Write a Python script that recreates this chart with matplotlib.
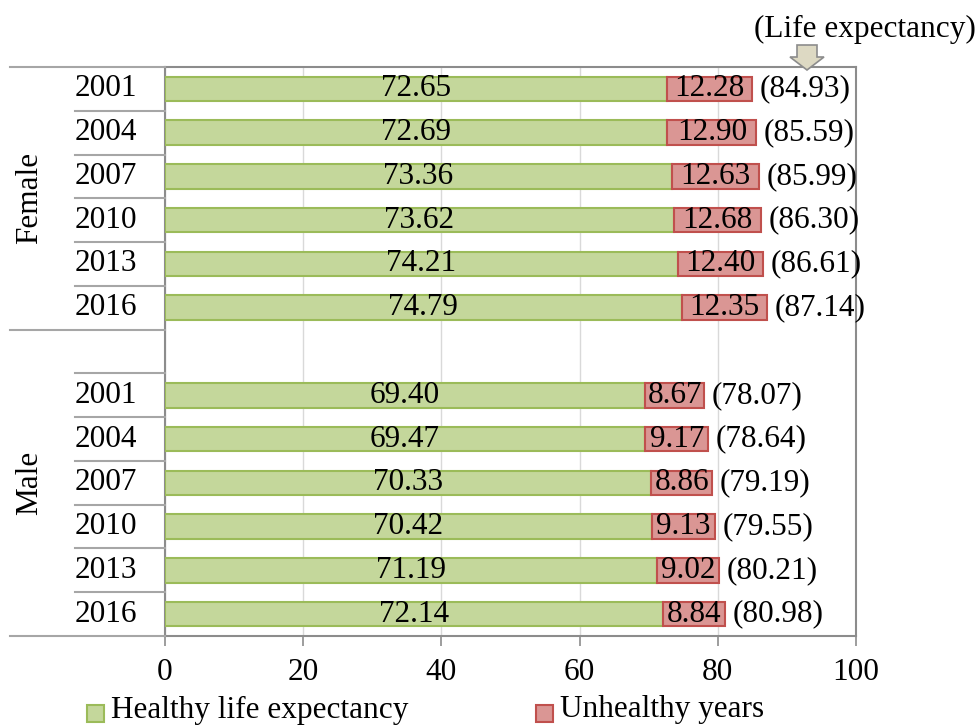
import matplotlib
matplotlib.use("Agg")
import matplotlib.pyplot as plt
from matplotlib.patches import Polygon
from matplotlib.transforms import blended_transform_factory

plt.rcParams['font.family'] = ['Liberation Serif', 'DejaVu Serif']

years = ["2001", "2004", "2007", "2010", "2013", "2016"]
groups = ["Female", "Male"]
female_healthy = [72.65, 72.69, 73.36, 73.62, 74.21, 74.79]
female_unhealthy = [12.28, 12.90, 12.63, 12.68, 12.40, 12.35]
female_life = [84.93, 85.59, 85.99, 86.30, 86.61, 87.14]
male_healthy = [69.40, 69.47, 70.33, 70.42, 71.19, 72.14]
male_unhealthy = [8.67, 9.17, 8.86, 9.13, 9.02, 8.84]
male_life = [78.07, 78.64, 79.19, 79.55, 80.21, 80.98]
x_ticks = [0, 20, 40, 60, 80, 100]

green_fill, green_edge = "#c4d79b", "#9bbb59"
red_fill, red_edge = "#da9694", "#c0504d"
axis_gray = "#8c8c8c"
FS = 22.5

W, H = 977, 727
fig = plt.figure(figsize=(W / 100, H / 100), dpi=100)
ax = fig.add_axes([165 / W, 1 - 636 / H, (856 - 165) / W, (636 - 67) / H])

# Row positions: six female rows, one empty row, six male rows
female_pos = list(range(0, 6))
male_pos = list(range(7, 13))
bar_h = 0.56

for pos, hv, uv, lv in [(female_pos, female_healthy, female_unhealthy, female_life),
                        (male_pos, male_healthy, male_unhealthy, male_life)]:
    ax.barh(pos, hv, height=bar_h, color=green_fill, edgecolor=green_edge,
            linewidth=1.5, zorder=3)
    ax.barh(pos, uv, left=hv, height=bar_h, color=red_fill, edgecolor=red_edge,
            linewidth=1.5, zorder=3)
    for y, h, u, l in zip(pos, hv, uv, lv):
        ax.text(h / 2, y, f"{h:.2f}", ha="center", va="center", fontsize=FS, zorder=4)
        ax.text(h + u / 2, y, f"{u:.2f}", ha="center", va="center", fontsize=FS, zorder=4)
        ax.text(h + u + 1.1, y, f"({l:.2f})", ha="left", va="center", fontsize=FS, zorder=4)

ax.set_xlim(0, 100)
ax.set_ylim(12.5, -0.5)
ax.set_xticks(x_ticks)
ax.set_xticklabels([str(t) for t in x_ticks], fontsize=FS)
ax.set_yticks([])
ax.tick_params(axis="x", direction="out", length=7, width=1.2, color=axis_gray, pad=9)
ax.grid(axis="x", color="#d9d9d9", linewidth=1.0, zorder=0)
ax.set_axisbelow(True)
for s in ax.spines.values():
    s.set_color(axis_gray)
    s.set_linewidth(1.5)

# Category table on the left
trans = blended_transform_factory(fig.transFigure, ax.transData)
x_outer = 10 / W
x_inner = 75 / W
x_axis = 165 / W
line_kw = dict(transform=trans, color="#a6a6a6", linewidth=1.5, clip_on=False)
for yb in [-0.5, 5.5, 12.5]:
    fig.add_artist(plt.Line2D([x_outer, x_axis], [yb, yb], **line_kw))
for yb in [0.5, 1.5, 2.5, 3.5, 4.5, 6.5, 7.5, 8.5, 9.5, 10.5, 11.5]:
    fig.add_artist(plt.Line2D([x_inner, x_axis], [yb, yb], **line_kw))

for pos in (female_pos, male_pos):
    for y, yr in zip(pos, years):
        fig.text(106 / W, y, yr, transform=trans, ha="center", va="center", fontsize=FS)

fig.text(30 / W, 2.5, groups[0], transform=trans, rotation=90,
         ha="center", va="center", fontsize=FS)
fig.text(30 / W, 9.0, groups[1], transform=trans, rotation=90,
         ha="center", va="center", fontsize=FS)

# Header note with arrow pointing at the totals
fig.text(865 / W, 1 - 29 / H, "(Life expectancy)", ha="center", va="center", fontsize=FS)
ax_px = [(797, 45), (817, 45), (817, 57), (824, 57), (807, 70), (790, 57), (797, 57)]
arrow = Polygon([(x / W, 1 - y / H) for x, y in ax_px], closed=True,
                transform=fig.transFigure, facecolor="#ddd9c3",
                edgecolor="#8c8c8c", linewidth=1.2)
fig.add_artist(arrow)

# Legend
def legend_item(x0, label, fc, ec):
    sq = plt.Rectangle((x0 / W, 1 - 722 / H), 17 / W, 17 / H, transform=fig.transFigure,
                       facecolor=fc, edgecolor=ec, linewidth=1.5)
    fig.add_artist(sq)
    fig.text((x0 + 24) / W, 1 - 710 / H, label, ha="left", va="center", fontsize=FS)

legend_item(87, "Healthy life expectancy", green_fill, green_edge)
legend_item(536, "Unhealthy years", red_fill, red_edge)

fig.savefig("out.png", dpi=100)
